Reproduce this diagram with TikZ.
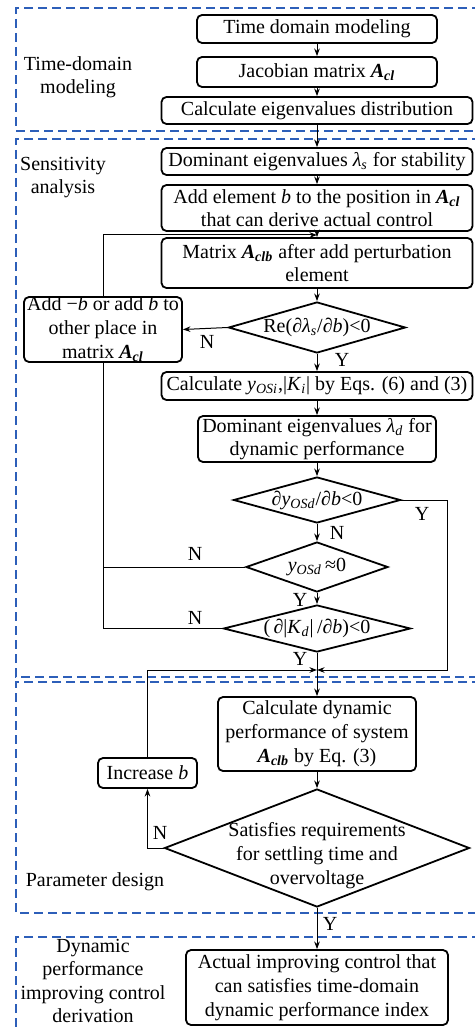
\documentclass[tikz,border=0pt]{standalone}
\usepackage{fontspec}
\setmainfont{Liberation Serif}
\usetikzlibrary{shapes.geometric,arrows.meta}
\definecolor{frameblue}{RGB}{45,95,185}
\newcommand{\iv}[1]{\textit{#1}}
\newcommand{\bi}[1]{\textbf{\textit{#1}}}
\newcommand{\lo}[1]{\textsubscript{#1}}
\begin{document}
\begin{tikzpicture}[x=0.5pt,y=-0.5pt,
  box/.style={draw, line width=0.9pt, rounded corners=2.5pt, align=center, inner xsep=1pt, inner ysep=0.5pt, font=\fontsize{10}{11.5}\selectfont},
  dia/.style={draw, diamond, line width=0.9pt, inner sep=0pt},
  lbl/.style={font=\fontsize{10}{11.5}\selectfont, inner sep=0pt, align=center},
  conn/.style={line width=0.5pt},
  arr/.style={conn, -{Stealth[length=3.8pt,width=2.8pt]}},
  frame/.style={draw=frameblue, line width=1pt, dash pattern=on 4.5pt off 2.5pt}]
\useasboundingbox (0,0) rectangle (475,1027);
% frames
\draw[frame] (495,8) -- (16,8) -- (16,131) -- (495,131);
\draw[frame] (495,139) -- (16,139) -- (16,677) -- (495,677);
\draw[frame] (495,682) -- (16,682) -- (16,913) -- (495,913);
\draw[frame] (495,937) -- (16,937) -- (16,1045);
% side labels
\node[lbl] (lab1) at (78,77.5) {Time-domain\\modeling};
\node[lbl] (lab2) at (63,178) {Sensitivity\\analysis};
\node[lbl] (lab3) at (95,882) {Parameter design};
\node[lbl, font=\fontsize{10}{11.8}\selectfont] (lab4) at (93,981) {Dynamic\\performance\\improving control\\derivation};
% boxes
\node[box, minimum width=120pt, minimum height=14pt] (tdm) at (317,29) {Time domain modeling};
\node[box, minimum width=120pt, minimum height=15pt] (jac) at (317,72) {Jacobian matrix \bi{A}\lo{\bi{cl}}};
\node[box, minimum width=155.5pt, minimum height=13.5pt] (calc) at (317,110.5) {Calculate eigenvalues distribution};
\node[box, minimum width=155.5pt, minimum height=13.5pt] (domS) at (317,161.5) {Dominant eigenvalues \iv{λ}\lo{\iv{s}} for stability};
\node[box, minimum width=155.5pt, minimum height=23pt] (addel) at (317,208) {Add element \iv{b} to the position in \bi{A}\lo{\bi{cl}}\\that can derive actual control};
\node[box, minimum width=155.5pt, minimum height=25pt] (mat) at (317,263) {Matrix \bi{A}\lo{\bi{clb}} after add perturbation\\element};
\node[box, minimum width=79pt, minimum height=32.5pt, inner ysep=0pt, font=\fontsize{10}{12}\selectfont] (left) at (103,329.5) {Add \textminus\iv{b} or add \iv{b} to\\other place in\\matrix \bi{A}\lo{\bi{cl}}};
\node[dia, minimum width=88.5pt, minimum height=25.5pt] (d1) at (317,327.5) {};
\node[lbl] (t1) at (d1) {Re(∂\iv{λ}\lo{\iv{s}}/∂\iv{b})<0};
\node[box, minimum width=155.5pt, minimum height=14pt] (calcy) at (317,386) {Calculate \iv{y}\lo{\iv{OSi}},|\iv{K}\lo{\iv{i}}| by Eqs. (6) and (3)};
\node[box, minimum width=119pt, minimum height=23pt] (domD) at (317,439) {Dominant eigenvalues \iv{λ}\lo{\iv{d}} for\\dynamic performance};
\node[dia, minimum width=83.5pt, minimum height=23pt] (d2) at (317,500) {};
\node[lbl] (t2) at (d2) {∂\iv{y}\lo{\iv{OSd}}/∂\iv{b}<0};
\node[dia, minimum width=71pt, minimum height=25pt] (d3) at (317,567) {};
\node[lbl] (t3) at (d3) {\iv{y}\lo{\iv{OSd}}\,≈0};
\node[dia, minimum width=93.5pt, minimum height=23.5pt] (d4) at (317,628.5) {};
\node[lbl] (t4) at (d4) {(\,∂|\iv{K}\lo{\iv{d}}|\,/∂\iv{b})<0};
\node[box, minimum width=99pt, minimum height=37pt, font=\fontsize{10}{12}\selectfont] (calcdyn) at (317,734) {Calculate dynamic\\performance of system\\\bi{A}\lo{\bi{clb}} by Eq. (3)};
\node[box, minimum width=49.5pt, minimum height=15pt] (incb) at (147.5,773) {Increase \iv{b}};
\node[dia, minimum width=152.5pt, minimum height=59pt] (d5) at (317,848) {};
\node[lbl, font=\fontsize{10}{12}\selectfont] (t5) at (317,856) {Satisfies requirements\\for settling time and\\overvoltage};
\node[box, minimum width=131pt, minimum height=37.5pt, font=\fontsize{10}{12}\selectfont] (actual) at (317,987.5) {Actual improving control that\\can satisfies time-domain\\dynamic performance index};
% coordinates
\coordinate (loopIn) at (317,235);
\coordinate (lb) at (103,628.5);
\coordinate (rc) at (447,670);
\coordinate (merge) at (317,670);
% connectors
\draw[arr] (tdm) -- (jac);
\draw[arr] (jac) -- (calc);
\draw[arr] (calc) -- (domS);
\draw[arr] (domS) -- (addel);
\draw[arr] (addel) -- (mat);
\draw[arr] (mat) -- (d1);
\draw[arr] (d1) -- (calcy);
\draw[arr] (calcy) -- (domD);
\draw[arr] (domD) -- (d2);
\draw[arr] (d2) -- (d3);
\draw[arr] (d3) -- (d4);
\draw[arr] (d4) -- (calcdyn);
\draw[arr] (calcdyn) -- (d5);
\draw[arr] (d5) -- (actual);
\draw[arr] (d1.west) -- (left.east);
\draw[arr] (left.north) |- (loopIn);
\draw[conn] (left.south) -- (lb);
\draw[conn] (d3.west) -- (d3.west -| lb);
\draw[conn] (d4.west) -- (lb);
\draw[arr] (d2.east) -| (rc) -- (merge);
\draw[arr] (incb.north) |- (merge);
\draw[arr] (d5.west) -| (incb.south);
% Y/N labels
\node[lbl] (n1) at (207,342) {N};
\node[lbl] (y1) at (342,360) {Y};
\node[lbl] (y2) at (422,514) {Y};
\node[lbl] (n2) at (337,533) {N};
\node[lbl] (n3) at (195,554) {N};
\node[lbl] (y3) at (300,600) {Y};
\node[lbl] (n4) at (195,618) {N};
\node[lbl] (y4) at (300,659) {Y};
\node[lbl] (n5) at (160,833) {N};
\node[lbl] (y5) at (330,924) {Y};
\end{tikzpicture}
\end{document}
